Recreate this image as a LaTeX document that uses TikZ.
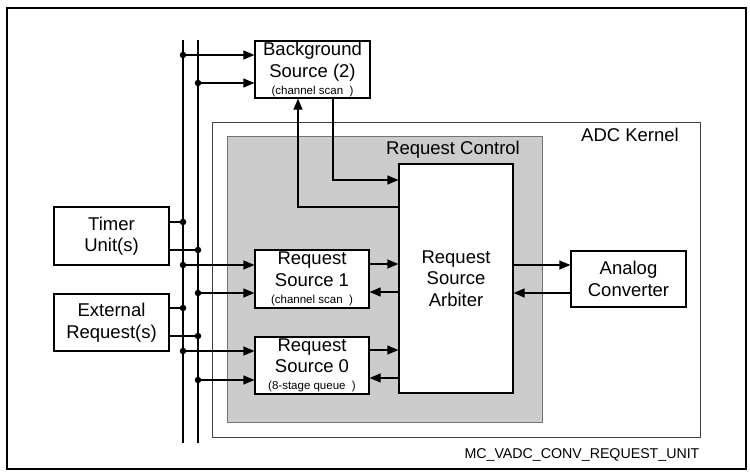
\documentclass[tikz,border=0pt]{standalone}
\usepackage{fontspec}
\setmainfont{Liberation Sans}
\usetikzlibrary{arrows.meta,calc}
\begin{document}
\begin{tikzpicture}[x=1pt,y=-1pt,
 box/.style={draw, line width=1.2pt, fill=white, inner sep=0pt, align=center, font=\fontsize{18.5}{21.5}\selectfont},
 conn/.style={line width=1.2pt},
 arr/.style={conn,-{Triangle[length=11pt,width=9pt]}},
 dotn/.style={circle, fill, inner sep=0pt, minimum size=6.5pt},
 lbl/.style={inner sep=0pt, font=\fontsize{18.5}{21.5}\selectfont}]
\useasboundingbox (0,0) rectangle (750,474);
\draw[line width=2.2pt] (7,8) rectangle (746,469);
% kernel and request control
\draw[line width=1pt, draw=black!75] (212,122) rectangle (700,437);
\draw[line width=1pt, draw=black!55, fill=black!20] (227,136) rectangle (542,422);
\node[lbl] (kernel) at (630,135) {ADC Kernel};
\node[lbl] (rc) at (453,150) {Request Control};
\node[inner sep=0pt, font=\fontsize{14.2}{16}\selectfont] (id) at (582,455) {MC\_VADC\_CONV\_REQUEST\_UNIT};
% bus lines
\coordinate (b1t) at (183,40); \coordinate (b1b) at (183,443);
\coordinate (b2t) at (198,40); \coordinate (b2b) at (198,443);
\draw[conn] (b1t) -- (b1b);
\draw[conn] (b2t) -- (b2b);
% boxes
\node[box, minimum width=115pt, minimum height=57pt] (bg) at (312.5,69.5)
  {Background\\Source (2)\\[-4.5pt]{\fontsize{11.5}{13}\selectfont (channel scan\ \ )}};
\node[box, minimum width=115pt, minimum height=58pt] (timer) at (111.5,236) {Timer\\Unit(s)};
\node[box, minimum width=115pt, minimum height=57pt] (ext) at (111.5,322.5) {External\\Request(s)};
\node[box, minimum width=114pt, minimum height=58pt] (rs1) at (312,279)
  {Request\\Source 1\\[-4.5pt]{\fontsize{11.5}{13}\selectfont (channel scan\ \ )}};
\node[box, minimum width=114pt, minimum height=57pt] (rs0) at (312,365.5)
  {Request\\Source 0\\[-4.5pt]{\fontsize{11.5}{13}\selectfont (8-stage queue\ \ )}};
\node[box, minimum width=114pt, minimum height=229pt] (arb) at (456,278.5) {Request\\Source\\Arbiter};
\node[box, minimum width=115pt, minimum height=56pt] (ana) at (628.5,279) {Analog\\Converter};
% y levels
\foreach \v in {55,83,180,207,222,250,264,265,292,293,308,336,350,351,378,380}
  \coordinate (y\v) at (0,\v);
\coordinate (x298) at (298,0);
\coordinate (x333) at (333,0);
% dots
\node[dotn] (d1) at (183,55) {};
\node[dotn] (d2) at (198,83) {};
\node[dotn] (d3) at (183,222) {};
\node[dotn] (d4) at (198,250) {};
\node[dotn] (d5) at (183,265) {};
\node[dotn] (d6) at (198,293) {};
\node[dotn] (d7) at (183,308) {};
\node[dotn] (d8) at (198,336) {};
\node[dotn] (d9) at (183,351) {};
\node[dotn] (d10) at (198,380) {};
% connectors
\draw[arr] (d1.center) -- (bg.west |- d1);
\draw[arr] (d2.center) -- (bg.west |- d2);
\draw[conn] (timer.east |- d3) -- (d3.center);
\draw[conn] (timer.east |- d4) -- (d4.center);
\draw[arr] (d5.center) -- (rs1.west |- d5);
\draw[arr] (d6.center) -- (rs1.west |- d6);
\draw[conn] (ext.east |- d7) -- (d7.center);
\draw[conn] (ext.east |- d8) -- (d8.center);
\draw[arr] (d9.center) -- (rs0.west |- d9);
\draw[arr] (d10.center) -- (rs0.west |- d10);
\draw[arr] (rs1.east |- y264) -- (arb.west |- y264);
\draw[arr] (arb.west |- y292) -- (rs1.east |- y292);
\draw[arr] (rs0.east |- y350) -- (arb.west |- y350);
\draw[arr] (arb.west |- y378) -- (rs0.east |- y378);
\draw[arr] (arb.east |- y265) -- (ana.west |- y265);
\draw[arr] (ana.west |- y293) -- (arb.east |- y293);
\draw[arr] (bg.south -| x333) -- (x333 |- y180) -- (arb.west |- y180);
\draw[arr] (arb.west |- y207) -- (x298 |- y207) -- (bg.south -| x298);
\end{tikzpicture}
\end{document}
